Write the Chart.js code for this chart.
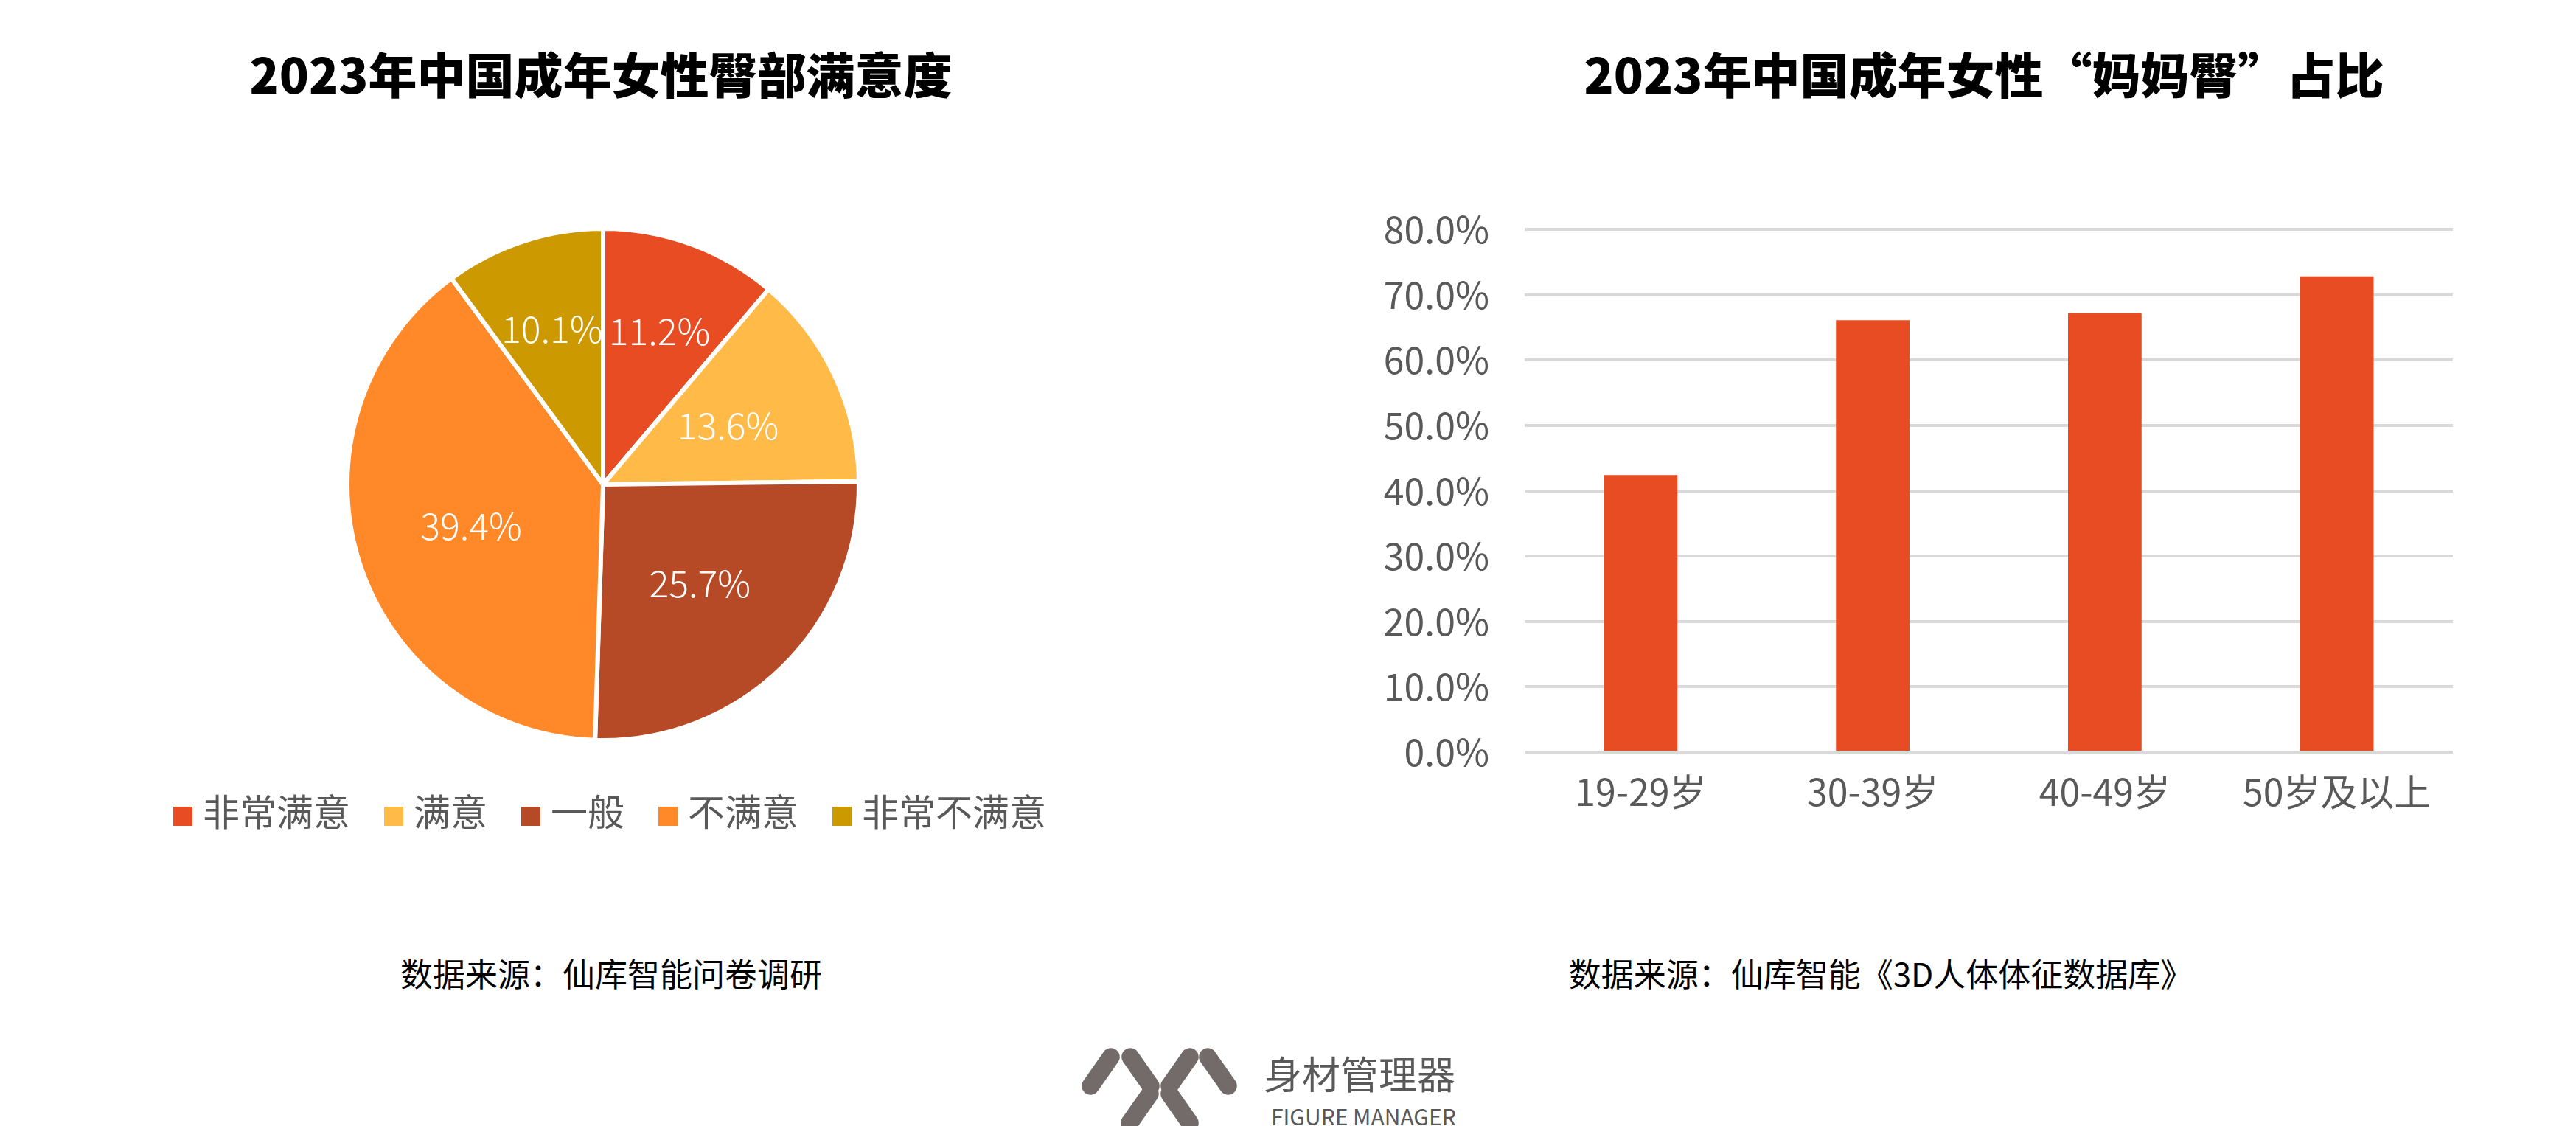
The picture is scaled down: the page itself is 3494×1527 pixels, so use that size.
<!DOCTYPE html>
<html><head><meta charset="utf-8">
<script src="https://cdn.jsdelivr.net/npm/chart.js@4"></script>
<style>
body{margin:0;width:3494px;height:1527px;background:#fff;position:relative;overflow:hidden;font-family:"Noto Sans CJK SC","Noto Sans",sans-serif;}
.t{position:absolute;white-space:nowrap;transform:translate(-50%,-50%);}
.title{font-size:66px;font-weight:900;color:#000;}
.src{font-size:44px;color:#000;}
#legend{position:absolute;left:235px;top:1062px;font-size:50px;color:#595959;display:flex;gap:46px;align-items:center;}
#legend span.sw{display:inline-block;width:26px;height:26px;margin-right:14px;}
.bar{position:absolute;width:72px;height:24px;border-radius:12px;background:#736B69;transform:translate(-50%,-50%) rotate(var(--r));}
</style></head><body>
<div class="t title" style="left:815px;top:98px">2023年中国成年女性臀部满意度</div>
<div class="t title" style="left:2691px;top:98px">2023年中国成年女性“妈妈臀”占比</div>
<div style="position:absolute;left:418px;top:257px;width:800px;height:800px"><canvas id="pie"></canvas></div>
<div id="legend"></div>
<div style="position:absolute;left:1868px;top:233px;width:1472px;height:917px"><canvas id="bar"></canvas></div>
<div class="t src" style="left:829px;top:1319px">数据来源：仙库智能问卷调研</div>
<div class="t src" style="left:2551px;top:1319px">数据来源：仙库智能《3D人体体征数据库》</div>
<div class="bar" style="left:1493px;top:1453px;--r:-55deg"></div>
<div class="bar" style="left:1547px;top:1453px;--r:55deg"></div>
<div class="bar" style="left:1600px;top:1453px;--r:-55deg"></div>
<div class="bar" style="left:1652px;top:1453px;--r:55deg"></div>
<div class="bar" style="left:1546px;top:1503px;--r:-55deg"></div>
<div class="bar" style="left:1600px;top:1503px;--r:55deg"></div>
<div style="position:absolute;left:1714px;top:1420px;font-size:52px;color:#595959;line-height:70px">身材管理器</div>
<div style="position:absolute;left:1724px;top:1493px;font-size:30px;color:#595959;line-height:40px">FIGURE MANAGER</div>
<script>
const pieLabels=['非常满意','满意','一般','不满意','非常不满意'];
const pieValues=[11.2,13.6,25.7,39.4,10.1];
const pieColors=['#E84C22','#FFBA47','#B64926','#FF8828','#CC9900'];
const barLabels=['19-29岁','30-39岁','40-49岁','50岁及以上'];
const barValues=[42.4,66.1,67.2,72.8];
const yTicksMax=80, yStep=10;

const lg=document.getElementById('legend');
pieLabels.forEach((l,i)=>{const d=document.createElement('div');d.innerHTML='<span class="sw" style="background:'+pieColors[i]+'"></span>'+l;lg.appendChild(d);});

const pieLabelPlugin={id:'pl',afterDatasetsDraw(c){const ctx=c.ctx;const m=c.getDatasetMeta(0);ctx.save();ctx.fillStyle='#fff';ctx.font='300 50px "Noto Sans CJK SC","Noto Sans"';ctx.textAlign='center';ctx.textBaseline='middle';
m.data.forEach((a,i)=>{const ang=(a.startAngle+a.endAngle)/2;const r=a.outerRadius*(pieValues[i]<12?0.64:0.54);ctx.fillText(pieValues[i].toFixed(1)+'%',a.x+Math.cos(ang)*r,a.y+Math.sin(ang)*r);});ctx.restore();}};
new Chart(document.getElementById('pie'),{type:'pie',data:{labels:pieLabels,datasets:[{data:pieValues,backgroundColor:pieColors,borderColor:'#fff',borderWidth:6}]},
options:{responsive:true,maintainAspectRatio:false,animation:false,layout:{padding:50},plugins:{legend:{display:false},tooltip:{enabled:false}}},plugins:[pieLabelPlugin]});

new Chart(document.getElementById('bar'),{type:'bar',data:{labels:barLabels,datasets:[{data:barValues,backgroundColor:'#E84C22',barPercentage:0.317,categoryPercentage:1}]},
options:{responsive:true,maintainAspectRatio:false,animation:false,layout:{padding:{top:10,right:13}},plugins:{legend:{display:false},tooltip:{enabled:false}},
scales:{x:{grid:{display:false},border:{display:false},ticks:{color:'#595959',font:{size:50,family:'"Noto Sans CJK SC","Noto Sans"'},padding:16},afterFit(s){s.height=130;}},
y:{min:0,max:yTicksMax,ticks:{stepSize:yStep,color:'#595959',font:{size:50,family:'"Noto Sans CJK SC","Noto Sans"'},padding:48,callback:v=>v.toFixed(1)+'%'},grid:{color:'#D9D9D9',lineWidth:4,drawTicks:false},border:{display:false},afterFit(s){s.width=200;}}}}});
</script></body></html>
